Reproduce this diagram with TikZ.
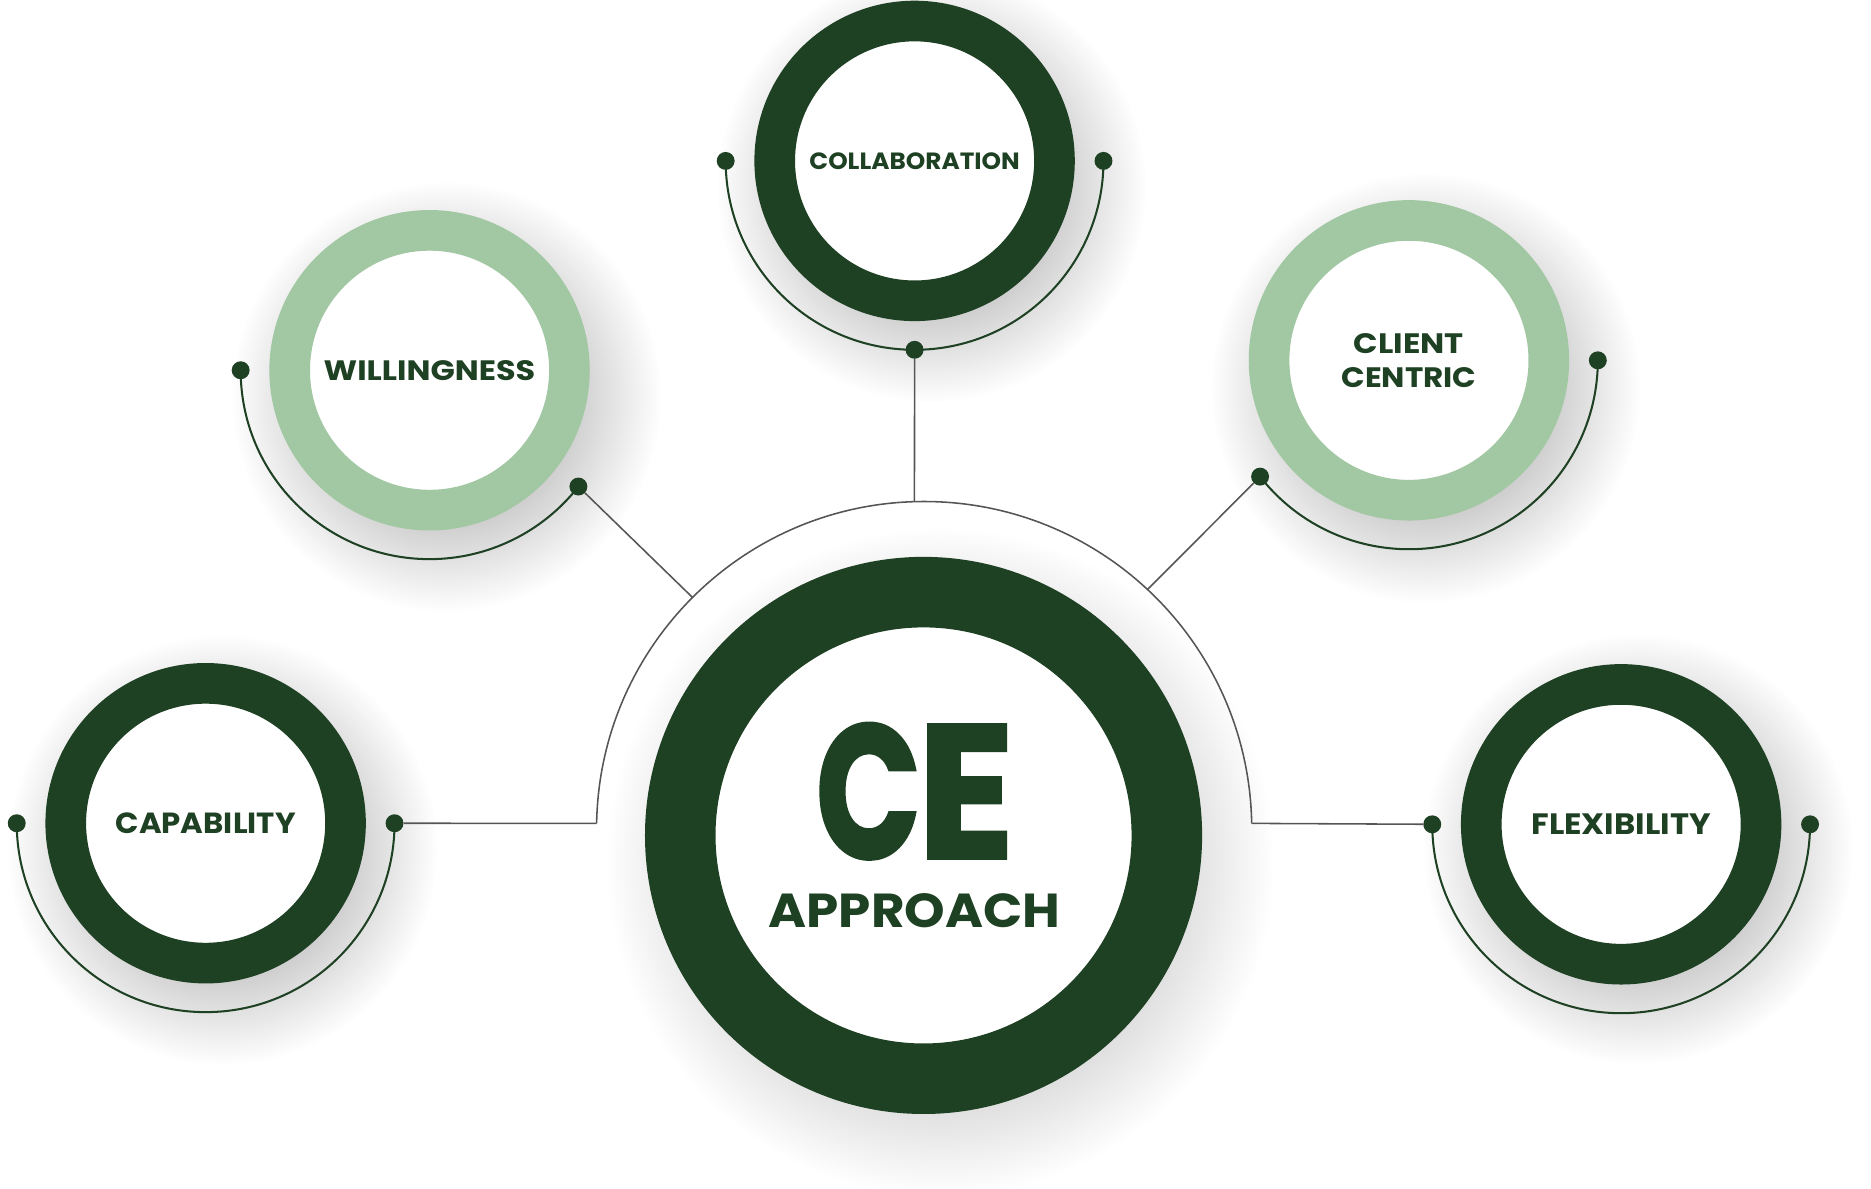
\documentclass[tikz,border=0pt]{standalone}
\usepackage{fontspec}
\setmainfont{Poppins}
\newfontfamily\cefont[FakeBold=1.6]{Poppins}
\usetikzlibrary{positioning,fadings}
\definecolor{ceDark}{HTML}{1E4023}
\definecolor{ceLight}{HTML}{A2C7A3}
\definecolor{ceLine}{HTML}{555555}
\tikzfading[name=softshadow, inner color=transparent!0, outer color=transparent!100]
% label squeezed to the width and cap height of the reference lettering
\newcommand{\celabel}[3]{\resizebox{#1}{#2}{\bfseries #3}}

\begin{document}
\begin{tikzpicture}[
    x=1bp, y=1bp,
    ring/.style={circle, draw=ceDark, line width=34bp, fill=white, minimum size=234bp, inner sep=0pt, text=ceDark, align=center, font=\bfseries\fontsize{24}{28.7}\selectfont},
    lightring/.style={ring, draw=ceLight},
    hubring/.style={ring, line width=59bp, minimum size=407bp},
    dot/.style={circle, fill=ceDark, minimum size=15bp, inner sep=0pt},
    orbit/.style={draw=ceDark, line width=1.7bp},
    link/.style={draw=ceLine, line width=1.3bp},
    ]
    \useasboundingbox (0,0) rectangle (1565,994);

    %Shadows
    \foreach \cx/\cy/\r in {765/859.4/134, 359.3/684.3/134, 1178.5/691.6/134, 172/305.4/134, 1356/306/134, 772.5/295.2/233}
      \fill[black, opacity=.47, path fading=softshadow] (\cx+14,\cy-22) circle[radius=\r+46];

    %Nodes
    \node[hubring]   (hub)     at (772.5,295.2) {};
    \node[ring]      (collab)  at (765,859.4)   {\celabel{176bp}{14bp}{COLLABORATION}};
    \node[lightring] (willing) at (359.3,684.3) {\celabel{177bp}{16.7bp}{WILLINGNESS}};
    \node[lightring] (client)  at (1178.5,692.6) {\celabel{92bp}{16.7bp}{CLIENT}\\\celabel{113bp}{16.7bp}{CENTRIC}};
    \node[ring]      (capab)   at (172,305.4)   {\celabel{150.6bp}{17.3bp}{CAPABILITY}};
    \node[ring]      (flex)    at (1356,304.5)  {\celabel{150bp}{17.3bp}{FLEXIBILITY}};

    % Text labels (inside the hub)
    \node[anchor=base, text=ceDark, inner sep=0pt] (ceText) at (765.5,276)
      {\raisebox{0pt}[\height][0pt]{\cefont\bfseries\fontsize{160}{160}\selectfont\scalebox{0.725}[1]{C}\kern-3bp\scalebox{0.94}[1]{E}}};
    \node[anchor=base, text=ceDark, inner sep=0pt] (approachText) at (765,218.3)
      {\celabel{244bp}{28.4bp}{APPROACH}};

    %Arc round the hub
    \coordinate (arcC)  at (773,300.5);
    \coordinate (arcL)  at ([shift={(179:274)}]arcC);
    \coordinate (arcR)  at ([shift={(1:274)}]arcC);
    \coordinate (arcN)  at ([shift={(91.7:274)}]arcC);
    \coordinate (arcNW) at ([shift={(135:274)}]arcC);
    \coordinate (arcNE) at ([shift={(47:274)}]arcC);
    \draw[link] (arcL) arc[start angle=179, end angle=1, radius=274];

    %Dots
    \node[dot] (collabL)  at ([shift={(180:158)}]collab.center)  {};
    \node[dot] (collabR)  at ([shift={(0:158)}]collab.center)    {};
    \node[dot] (collabB)  at ([shift={(270:158)}]collab.center)  {};
    \node[dot] (willingL) at ([shift={(180:158)}]willing.center) {};
    \node[dot] (willingR) at ([shift={(322:158)}]willing.center) {};
    \node[dot] (clientL)  at ([shift={(218:158)}]client.center)  {};
    \node[dot] (clientR)  at ([shift={(0:158)}]client.center)    {};
    \node[dot] (capabL)   at ([shift={(180:158)}]capab.center)   {};
    \node[dot] (capabR)   at ([shift={(0:158)}]capab.center)     {};
    \node[dot] (flexL)    at ([shift={(180:158)}]flex.center)    {};
    \node[dot] (flexR)    at ([shift={(0:158)}]flex.center)      {};

    %Orbits
    \draw[orbit] (collabL.center)  arc[start angle=180, end angle=360, radius=158];
    \draw[orbit] (willingL.center) arc[start angle=180, end angle=322, radius=158];
    \draw[orbit] (clientL.center)  arc[start angle=218, end angle=360, radius=158];
    \draw[orbit] (capabL.center)   arc[start angle=180, end angle=360, radius=158];
    \draw[orbit] (flexL.center)    arc[start angle=180, end angle=360, radius=158];

    %Lines
    \draw[link] (collabB)  -- (arcN);
    \draw[link] (willingR) -- (arcNW);
    \draw[link] (clientL)  -- (arcNE);
    \draw[link] (capabR)   -- (arcL);
    \draw[link] (flexL)    -- (arcR);
\end{tikzpicture}
\end{document}
